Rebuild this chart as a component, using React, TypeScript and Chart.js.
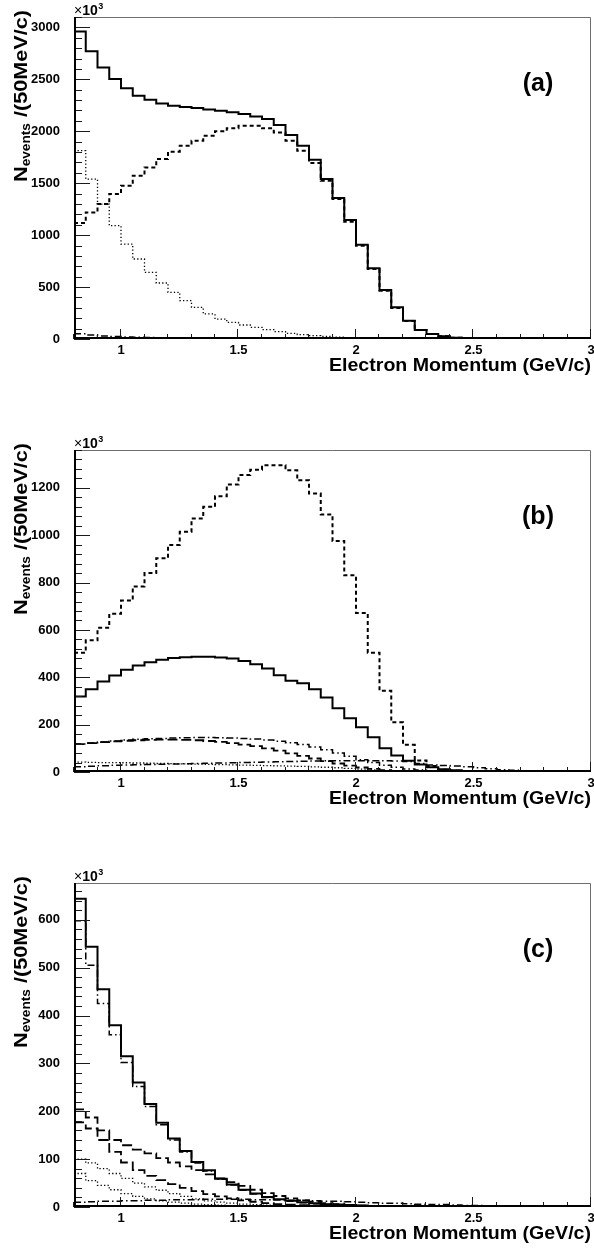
import React, { useEffect, useRef } from "react";
import { Chart, registerables } from "chart.js";

Chart.register(...registerables);

// ---------- binning: 50 MeV/c bins starting at 0.8 GeV/c ----------
const BIN_START = 0.8;
const BIN_WIDTH = 0.05;
const X_MIN = 0.8;
const X_MAX = 3.0;
const X_TICK_LABELS = [1, 1.5, 2, 2.5, 3];

const A_Y_TICKS = [0, 500, 1000, 1500, 2000, 2500, 3000];
const B_Y_TICKS = [0, 200, 400, 600, 800, 1000, 1200];
const C_Y_TICKS = [0, 100, 200, 300, 400, 500, 600];

// ---------- panel (a): events / 50 MeV/c, in units of 10^3 ----------
const A_SOLID = [2960, 2770, 2615, 2503, 2413, 2342, 2304, 2268, 2246, 2233, 2223, 2210, 2198, 2182, 2166, 2143, 2117, 2060, 1963, 1861, 1726, 1540, 1357, 1145, 908, 680, 472, 305, 176, 87, 48, 26, 13, 6, 3, 1, 0];
const A_DASHED = [1116, 1219, 1299, 1396, 1476, 1572, 1652, 1732, 1803, 1861, 1909, 1957, 1999, 2028, 2053, 2053, 2028, 1989, 1909, 1813, 1694, 1524, 1347, 1129, 898, 674, 465, 298, 173, 87, 48, 26, 13, 6, 3, 1, 0];
const A_DOTTED = [1813, 1540, 1299, 1091, 914, 770, 642, 539, 449, 369, 305, 241, 192, 160, 135, 112, 90, 71, 55, 42, 32, 25, 18, 13, 9, 6, 4, 2, 1, 0];
const A_DASHDOT = [50, 38, 30, 24, 20, 17, 15, 13, 12, 11, 10, 9, 8, 8, 7, 7, 6, 6, 5, 5, 4, 4, 3, 3, 2, 2, 2, 1, 1, 1, 0];

// ---------- panel (b) ----------
const B_DASHED = [504, 556, 609, 668, 724, 784, 840, 903, 959, 1015, 1071, 1120, 1165, 1214, 1254, 1277, 1296, 1296, 1274, 1232, 1176, 1088, 976, 831, 672, 504, 343, 210, 115, 49, 25, 10, 5, 2, 0];
const B_SOLID = [319, 350, 382, 408, 432, 450, 464, 474, 481, 485, 487, 487, 484, 479, 469, 455, 437, 409, 385, 375, 350, 315, 269, 227, 189, 147, 100, 70, 48, 32, 20, 12, 7, 4, 2, 1, 0];
const B_LONGDASH_1 = [118, 122, 126, 129, 132, 134, 136, 137, 137, 136, 134, 131, 127, 122, 116, 109, 100, 90, 79, 68, 57, 46, 36, 27, 19, 13, 8, 5, 3, 2, 1, 0];
const B_LONGDASH_2 = [118, 123, 127, 131, 135, 138, 140, 142, 144, 145, 146, 146, 145, 144, 142, 139, 135, 130, 124, 116, 106, 94, 80, 66, 52, 40, 29, 20, 13, 8, 5, 3, 1, 0];
const B_DASHDOT = [22, 24, 26, 28, 30, 31, 32, 33, 34, 35, 36, 37, 38, 39, 40, 41, 42, 43, 44, 45, 46, 47, 47, 48, 48, 48, 47, 46, 44, 36, 30, 27, 25, 22, 18, 14, 10, 7, 4, 2, 1, 0];
const B_DOTTED = [42, 41, 40, 40, 39, 38, 37, 36, 35, 34, 33, 32, 31, 30, 29, 28, 27, 26, 25, 24, 22, 20, 18, 15, 12, 9, 6, 4, 2, 1, 0];

// ---------- panel (c) ----------
const C_SOLID = [644, 544, 455, 380, 315, 260, 215, 176, 143, 117, 94, 77, 59, 47, 36, 28, 21, 16, 13, 10, 8, 6, 5, 4, 3, 2, 2, 1, 1, 1, 0];
const C_DASHDOT = [598, 505, 425, 360, 302, 252, 210, 172, 140, 115, 92, 75, 58, 46, 35, 27, 20, 15, 12, 9, 7, 5, 4, 3, 2, 2, 1, 1, 0];
const C_LONGDASH_1 = [204, 187, 160, 140, 129, 120, 112, 102, 93, 85, 77, 68, 60, 52, 44, 36, 29, 23, 18, 14, 11, 8, 6, 4, 3, 2, 1, 1, 0];
const C_LONGDASH_2 = [177, 164, 140, 115, 93, 77, 65, 56, 48, 40, 33, 27, 22, 18, 14, 11, 8, 6, 5, 4, 3, 2, 1, 1, 0];
const C_DOTTED_1 = [100, 92, 80, 70, 60, 50, 42, 35, 28, 22, 17, 13, 10, 8, 6, 5, 4, 3, 2, 1, 1, 0];
const C_DOTTED_2 = [70, 55, 45, 36, 28, 22, 17, 13, 10, 8, 6, 5, 4, 3, 2, 2, 1, 1, 0];
const C_DASHDOT_TAIL = [10, 11, 12, 12, 13, 13, 14, 14, 15, 15, 15, 16, 16, 16, 16, 15, 15, 15, 14, 14, 13, 12, 12, 11, 10, 9, 8, 8, 7, 6, 5, 5, 4, 3, 3, 2, 2, 1, 1, 0];

const X_TITLE = "Electron Momentum (GeV/c)";
const FONT = '"Liberation Sans", Arial, Helvetica, sans-serif';

type LineStyle = "solid" | "dashed" | "dotted" | "dashdot" | "longdash";
const STYLE: Record<LineStyle, { w: number; dash: number[] }> = {
  solid: { w: 2, dash: [] },
  dashed: { w: 2, dash: [4, 3] },
  dotted: { w: 1.3, dash: [1.3, 2.2] },
  dashdot: { w: 1.5, dash: [7, 3, 1.5, 3] },
  longdash: { w: 1.8, dash: [10, 4] },
};

interface PanelCfg {
  label: string;
  top: number;
  height: number;
  plotTop: number;
  plotH: number;
  yMax: number;
  yTicks: number[];
  yMinor: number;
  series: [number[], LineStyle][];
}

const PANELS: PanelCfg[] = [
  {
    label: "(a)", top: 0, height: 433, plotTop: 17, plotH: 322, yMax: 3100, yTicks: A_Y_TICKS, yMinor: 100,
    series: [[A_DASHDOT, "dashdot"], [A_DOTTED, "dotted"], [A_DASHED, "dashed"], [A_SOLID, "solid"]],
  },
  {
    label: "(b)", top: 433, height: 433, plotTop: 17, plotH: 322, yMax: 1360, yTicks: B_Y_TICKS, yMinor: 40,
    series: [[B_DOTTED, "dotted"], [B_DASHDOT, "dashdot"], [B_LONGDASH_2, "dashdot"], [B_LONGDASH_1, "longdash"], [B_SOLID, "solid"], [B_DASHED, "dashed"]],
  },
  {
    label: "(c)", top: 866, height: 390, plotTop: 17, plotH: 324, yMax: 677, yTicks: C_Y_TICKS, yMinor: 20,
    series: [[C_DASHDOT_TAIL, "dashdot"], [C_DOTTED_2, "dotted"], [C_DOTTED_1, "dotted"], [C_LONGDASH_2, "longdash"], [C_LONGDASH_1, "longdash"], [C_DASHDOT, "dashdot"], [C_SOLID, "solid"]],
  },
];

function toSteps(values: number[]) {
  const pts = values.map((v, i) => ({ x: BIN_START + i * BIN_WIDTH, y: v }));
  pts.push({ x: BIN_START + values.length * BIN_WIDTH, y: values[values.length - 1] });
  return pts;
}

const rootFrame = {
  id: "rootFrame",
  afterDraw(chart: any, _args: any, opts: any) {
    const cfg: PanelCfg = opts.cfg;
    const { ctx, chartArea: ca } = chart;
    const xs = chart.scales.x;
    const ys = chart.scales.y;
    ctx.save();
    ctx.setLineDash([]);
    // grey frame (top / right)
    ctx.strokeStyle = "#6e6e6e";
    ctx.lineWidth = 1;
    ctx.beginPath();
    ctx.moveTo(ca.left, ca.top + 0.5);
    ctx.lineTo(ca.right - 0.5, ca.top + 0.5);
    ctx.lineTo(ca.right - 0.5, ca.bottom);
    ctx.stroke();
    // inward ticks
    ctx.strokeStyle = "#1a1a1a";
    ctx.lineWidth = 1;
    ctx.beginPath();
    for (let i = 0; ; i++) {
      const v = X_MIN + i * 0.1;
      if (v > X_MAX + 1e-9) break;
      const px = Math.round(xs.getPixelForValue(v)) - 0.5;
      const major = Math.abs(v * 2 - Math.round(v * 2)) < 1e-6;
      ctx.moveTo(px, ca.bottom);
      ctx.lineTo(px, ca.bottom - (major ? 10 : 5));
    }
    for (let v = 0; v <= cfg.yMax + 1e-9; v += cfg.yMinor) {
      const py = Math.round(ys.getPixelForValue(v)) + 0.5;
      const major = cfg.yTicks.includes(v);
      ctx.moveTo(ca.left, py);
      ctx.lineTo(ca.left + (major ? 16 : 8), py);
    }
    ctx.stroke();
    // axes (left / bottom)
    ctx.strokeStyle = "#000";
    ctx.lineWidth = 2;
    ctx.beginPath();
    ctx.moveTo(ca.left + 1, ca.top);
    ctx.lineTo(ca.left + 1, ca.bottom - 1);
    ctx.lineTo(ca.right, ca.bottom - 1);
    ctx.stroke();

    ctx.fillStyle = "#000";
    // x10^3
    ctx.textBaseline = "alphabetic";
    ctx.textAlign = "left";
    let tx = ca.left;
    const by = ca.top - 2;
    ctx.font = `14px ${FONT}`;
    ctx.fillText("\u00d7", tx, by);
    tx += ctx.measureText("\u00d7").width;
    ctx.font = `bold 14px ${FONT}`;
    ctx.fillText("10", tx, by);
    tx += ctx.measureText("10").width + 0.5;
    ctx.font = `bold 9px ${FONT}`;
    ctx.fillText("3", tx, by - 6);

    // panel label
    ctx.font = `bold 25px ${FONT}`;
    ctx.textAlign = "center";
    ctx.textBaseline = "middle";
    ctx.fillText(cfg.label, 538, ca.top + 67);

    // x title
    ctx.font = `bold 19px ${FONT}`;
    ctx.textAlign = "right";
    ctx.textBaseline = "middle";
    const xw = ctx.measureText(X_TITLE).width;
    const targetW = 262;
    ctx.save();
    ctx.translate(ca.right, ca.bottom + 27);
    ctx.scale(targetW / xw, 1);
    ctx.fillText(X_TITLE, 0, 0);
    ctx.restore();

    // y title N_events /(50MeV/c)
    ctx.save();
    ctx.translate(0, ca.top - 7);
    ctx.rotate(-Math.PI / 2);
    ctx.textAlign = "left";
    ctx.textBaseline = "alphabetic";
    const big = `bold 19px ${FONT}`;
    const small = `bold 12px ${FONT}`;
    ctx.font = big;
    const wN = ctx.measureText("N").width;
    const wRest = ctx.measureText(" /(50MeV/c)").width;
    ctx.font = small;
    const wSub = ctx.measureText("events").width;
    const W = wN + wSub + wRest;
    const L = 172;
    ctx.translate(-L, 0);
    ctx.scale(L / W, 1);
    ctx.font = big;
    ctx.fillText("N", 0, 27);
    ctx.font = small;
    ctx.fillText("events", wN, 30);
    ctx.font = big;
    ctx.fillText(" /(50MeV/c)", wN + wSub, 27);
    ctx.restore();

    ctx.restore();
  },
};

function Panel({ cfg }: { cfg: PanelCfg }) {
  const ref = useRef<HTMLCanvasElement | null>(null);
  useEffect(() => {
    if (!ref.current) return;
    const tickFont = { family: FONT, weight: "bold" as const, size: 13 };
    const chart = new Chart(ref.current, {
      type: "line",
      data: {
        datasets: cfg.series.map(([vals, st]) => ({
          data: toSteps(vals),
          borderColor: "#000",
          borderWidth: STYLE[st].w,
          borderDash: STYLE[st].dash,
          borderCapStyle: "butt" as const,
          borderJoinStyle: "miter" as const,
          stepped: true,
          pointRadius: 0,
          fill: false,
          tension: 0,
        })),
      },
      options: {
        responsive: false,
        animation: false,
        devicePixelRatio: 1,
        layout: { padding: { top: cfg.plotTop, right: 3, left: 0, bottom: 0 } },
        plugins: {
          legend: { display: false },
          tooltip: { enabled: false },
          // @ts-ignore
          rootFrame: { cfg },
        },
        scales: {
          x: {
            type: "linear",
            min: X_MIN,
            max: X_MAX,
            grid: { display: false },
            border: { display: false },
            afterBuildTicks: (s: any) => {
              s.ticks = X_TICK_LABELS.map((v) => ({ value: v }));
            },
            afterFit: (s: any) => {
              s.height = cfg.height - cfg.plotTop - cfg.plotH;
            },
            ticks: {
              font: tickFont,
              color: "#000",
              padding: -4,
              maxRotation: 0,
              autoSkip: false,
              callback: (v: any) => String(v),
            },
          },
          y: {
            type: "linear",
            min: 0,
            max: cfg.yMax,
            grid: { display: false },
            border: { display: false },
            afterBuildTicks: (s: any) => {
              s.ticks = cfg.yTicks.map((v) => ({ value: v }));
            },
            afterFit: (s: any) => {
              s.width = 74;
            },
            ticks: {
              font: tickFont,
              color: "#000",
              padding: 6,
              callback: (v: any) => String(v),
            },
          },
        },
      },
      plugins: [rootFrame],
    } as any);
    return () => chart.destroy();
  }, [cfg]);
  return (
    <canvas
      ref={ref}
      width={594}
      height={cfg.height}
      style={{ position: "absolute", left: 0, top: cfg.top, width: 594, height: cfg.height, display: "block" }}
    />
  );
}

export default function App() {
  return (
    <div style={{ position: "absolute", left: 0, top: 0, width: 594, height: 1256, background: "#fff", overflow: "hidden" }}>
      {PANELS.map((p) => (
        <Panel key={p.label} cfg={p} />
      ))}
    </div>
  );
}
